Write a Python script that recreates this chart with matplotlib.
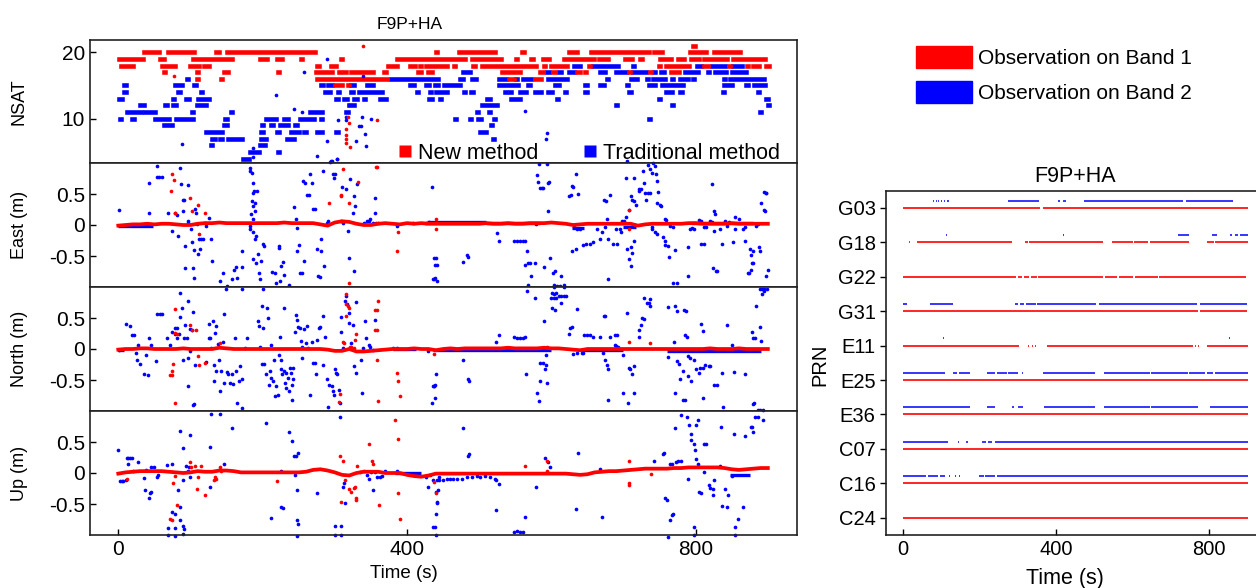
import matplotlib
matplotlib.use("Agg")
import matplotlib.pyplot as plt
from matplotlib.lines import Line2D
from matplotlib.patches import Patch

# ---------------------------------------------------------------- data
# NSAT runs: (nsat, first epoch, last epoch) in seconds
NSAT_NEW = [
    (20, 35, 56), (20, 69, 105), (20, 126, 126), (20, 135, 140), (20, 151, 272),
    (19, 1, 34), (19, 50, 50), (19, 58, 64), (19, 103, 158), (19, 174, 174), (19, 184, 184),
    (19, 196, 206), (19, 220, 227), (19, 235, 235), (19, 244, 244), (19, 253, 254),
    (19, 309, 310), (19, 386, 480),
    (18, 4, 20), (18, 30, 30), (18, 60, 78), (18, 100, 112), (18, 119, 126), (18, 133, 133),
    (18, 214, 214), (18, 223, 223), (18, 255, 255), (18, 266, 266), (18, 276, 278),
    (18, 295, 302), (18, 312, 312), (18, 374, 386), (18, 396, 396), (18, 404, 411),
    (18, 418, 420), (18, 426, 456),
    (17, 8, 8), (17, 64, 65), (17, 109, 110), (17, 123, 123), (17, 146, 152), (17, 221, 222),
    (17, 255, 255), (17, 274, 296), (17, 306, 307), (17, 313, 315), (17, 323, 353),
    (17, 368, 371), (17, 392, 392), (17, 415, 420), (17, 429, 435),
    (16, 56, 56), (16, 67, 68), (16, 109, 110), (16, 123, 123), (16, 143, 144), (16, 276, 373),
    (15, 134, 134), (15, 141, 141), (15, 300, 310), (15, 318, 320), (15, 367, 367), (15, 385, 385),
    (14, 318, 318), (13, 284, 284), (11, 307, 307), (10, 319, 319), (10, 434, 435),
    (21, 796, 799),
    (20, 440, 441), (20, 472, 522), (20, 529, 529), (20, 560, 562), (20, 592, 593), (20, 625, 636),
    (20, 655, 735), (20, 742, 753), (20, 771, 772), (20, 792, 814), (20, 825, 862), (20, 894, 895),
    (19, 490, 530), (19, 551, 553), (19, 572, 575), (19, 588, 597), (19, 618, 644), (19, 650, 659),
    (19, 666, 679), (19, 691, 691), (19, 702, 712), (19, 723, 725), (19, 732, 733), (19, 739, 739),
    (19, 750, 766), (19, 775, 784), (19, 793, 804), (19, 812, 844), (19, 852, 896),
    (18, 465, 467), (18, 492, 494), (18, 504, 579), (18, 590, 591), (18, 599, 622), (18, 646, 646),
    (18, 652, 653), (18, 749, 750), (18, 759, 791), (18, 797, 797), (18, 812, 817), (18, 846, 847),
    (18, 871, 873), (18, 880, 888), (18, 898, 901),
    (17, 447, 447), (17, 464, 464), (17, 531, 557), (17, 585, 589), (17, 602, 605), (17, 619, 619),
    (17, 636, 640), (17, 647, 648), (17, 708, 709), (17, 737, 738), (17, 766, 777), (17, 812, 812),
    (16, 542, 548), (16, 578, 586), (16, 646, 647), (16, 769, 769),
    (15, 584, 585), (15, 601, 601), (15, 748, 748),
    (14, 737, 737), (13, 594, 594), (13, 704, 704), (12, 563, 564),
]

NSAT_TRAD = [
    (18, 631, 640), (18, 658, 693), (18, 713, 714), (18, 802, 807), (18, 822, 841), (18, 852, 864),
    (17, 258, 258), (17, 408, 408), (17, 424, 424), (17, 478, 487), (17, 594, 597), (17, 610, 614),
    (17, 624, 632), (17, 653, 654), (17, 667, 675), (17, 690, 703), (17, 713, 731), (17, 742, 744),
    (17, 752, 756), (17, 785, 803), (17, 817, 819), (17, 827, 842), (17, 851, 870), (17, 893, 893),
    (16, 95, 96), (16, 104, 104), (16, 378, 443), (16, 474, 478), (16, 490, 495), (16, 527, 537),
    (16, 551, 552), (16, 561, 572), (16, 595, 622), (16, 629, 629), (16, 652, 652), (16, 677, 679),
    (16, 711, 712), (16, 718, 719), (16, 726, 726), (16, 733, 734), (16, 741, 758), (16, 767, 769),
    (16, 778, 789), (16, 796, 797), (16, 819, 819), (16, 830, 830), (16, 839, 841), (16, 848, 895),
    (15, 8, 11), (15, 79, 88), (15, 96, 96), (15, 105, 107), (15, 274, 274), (15, 281, 283),
    (15, 290, 296), (15, 323, 327), (15, 344, 353), (15, 372, 373), (15, 404, 410), (15, 417, 417),
    (15, 426, 431), (15, 439, 443), (15, 451, 473), (15, 495, 495), (15, 527, 554), (15, 561, 561),
    (15, 568, 571), (15, 588, 589), (15, 605, 610), (15, 647, 649), (15, 668, 673), (15, 690, 690),
    (15, 705, 706), (15, 735, 743), (15, 753, 782), (15, 812, 812), (15, 839, 851), (15, 860, 860),
    (15, 870, 873), (15, 881, 896),
    (14, 1, 1), (14, 8, 10), (14, 83, 86), (14, 114, 116), (14, 275, 275), (14, 286, 293),
    (14, 305, 306), (14, 323, 325), (14, 333, 365), (14, 373, 373), (14, 392, 392), (14, 404, 404),
    (14, 414, 415), (14, 432, 433), (14, 440, 455), (14, 464, 464), (14, 479, 480), (14, 489, 491),
    (14, 529, 529), (14, 536, 537), (14, 543, 544), (14, 557, 565), (14, 578, 586), (14, 596, 601),
    (14, 619, 620), (14, 647, 650), (14, 678, 679), (14, 688, 688), (14, 708, 710), (14, 759, 767),
    (14, 778, 781), (14, 838, 839), (14, 879, 880), (14, 887, 888), (14, 897, 898),
    (13, 1, 5), (13, 56, 56), (13, 66, 66), (13, 76, 77), (13, 85, 86), (13, 94, 98), (13, 111, 126),
    (13, 148, 148), (13, 227, 227), (13, 274, 274), (13, 302, 304), (13, 313, 317), (13, 326, 331),
    (13, 341, 342), (13, 362, 371), (13, 413, 413), (13, 430, 435), (13, 446, 447), (13, 467, 467),
    (13, 487, 487), (13, 511, 515), (13, 544, 556), (13, 581, 582), (13, 608, 609), (13, 749, 750),
    (13, 768, 769), (13, 898, 900),
    (12, 7, 7), (12, 30, 35), (12, 65, 68), (12, 76, 80), (12, 109, 122), (12, 132, 133),
    (12, 144, 144), (12, 206, 206), (12, 217, 217), (12, 237, 237), (12, 254, 254), (12, 266, 266),
    (12, 320, 327), (12, 367, 367), (12, 430, 430), (12, 496, 496), (12, 504, 525), (12, 549, 549),
    (12, 690, 691), (12, 699, 699), (12, 738, 738), (12, 767, 769), (12, 900, 901),
    (11, 12, 31), (11, 37, 51), (11, 58, 58), (11, 94, 94), (11, 102, 104), (11, 124, 124),
    (11, 146, 146), (11, 156, 157), (11, 216, 216), (11, 229, 229), (11, 256, 256), (11, 266, 282),
    (11, 315, 318), (11, 385, 385), (11, 439, 439), (11, 448, 449), (11, 459, 460), (11, 471, 471),
    (11, 497, 499), (11, 514, 515), (11, 594, 594), (11, 699, 699), (11, 748, 748), (11, 889, 890),
    (10, 3, 4), (10, 19, 22), (10, 41, 41), (10, 51, 70), (10, 80, 103), (10, 127, 127),
    (10, 148, 151), (10, 204, 219), (10, 230, 235), (10, 243, 244), (10, 252, 271), (10, 281, 282),
    (10, 289, 289), (10, 467, 468), (10, 488, 489), (10, 499, 502), (10, 521, 522), (10, 704, 704),
    (10, 736, 737),
    (9, 17, 17), (9, 63, 75), (9, 100, 100), (9, 146, 151), (9, 199, 200), (9, 211, 214),
    (9, 224, 235), (9, 245, 248), (9, 259, 259), (9, 516, 518), (9, 563, 564),
    (8, 63, 63), (8, 71, 72), (8, 121, 144), (8, 171, 171), (8, 198, 200), (8, 220, 223),
    (8, 232, 232), (8, 239, 250), (8, 258, 260), (8, 276, 282), (8, 302, 305), (8, 434, 435),
    (8, 501, 509), (8, 518, 518),
    (7, 130, 134), (7, 141, 144), (7, 152, 172), (7, 198, 204), (7, 223, 223), (7, 234, 243),
    (7, 261, 261), (7, 500, 500), (7, 519, 520),
    (6, 128, 130), (6, 197, 203),
    (5, 182, 195), (5, 221, 222), (5, 308, 308),
    (4, 173, 181),
]

# new-method fixed solution, one value every 10 s from 0 to 900 s (m)
FIX_T = list(range(0, 901, 10))
EAST_NEW = [
    -0.01, 0.00, 0.01, 0.01, 0.02, 0.01, 0.02, 0.02, 0.01, 0.00,
    0.00, 0.02, 0.03, 0.03, 0.04, 0.03, 0.03, 0.03, 0.03, 0.03,
    0.03, 0.03, 0.03, 0.04, 0.03, 0.03, 0.03, 0.03, 0.01, -0.01,
    0.04, 0.06, 0.05, 0.02, 0.00, 0.00, 0.02, 0.03, 0.02, 0.01,
    0.03, 0.02, 0.03, 0.02, 0.02, 0.02, 0.02, 0.02, 0.02, 0.02,
    0.02, 0.03, 0.02, 0.02, 0.03, 0.02, 0.02, 0.03, 0.03, 0.03,
    0.04, 0.03, 0.02, 0.00, 0.01, 0.02, 0.02, 0.02, 0.02, 0.02,
    0.02, 0.02, -0.01, 0.01, 0.02, 0.02, 0.02, 0.02, 0.02, 0.03,
    0.03, 0.02, 0.02, 0.02, 0.02, 0.03, 0.02, 0.02, 0.02, 0.02,
    0.02,
]
NORTH_NEW = [
    -0.01, 0.00, 0.00, 0.01, 0.01, 0.00, 0.00, 0.00, 0.00, 0.01,
    0.00, 0.00, 0.00, 0.00, 0.02, 0.01, 0.00, 0.00, 0.00, 0.00,
    0.00, 0.00, 0.00, 0.00, 0.00, 0.00, 0.00, 0.00, 0.00, -0.01,
    -0.03, -0.03, 0.00, -0.04, -0.04, -0.03, -0.02, -0.01, 0.00, 0.00,
    0.00, 0.01, 0.00, 0.00, -0.02, 0.00, 0.01, 0.00, 0.01, 0.01,
    0.01, 0.01, 0.01, 0.01, 0.02, 0.01, 0.01, 0.01, 0.01, 0.02,
    0.01, 0.01, 0.00, -0.01, -0.02, 0.00, 0.00, 0.00, 0.00, 0.00,
    0.00, 0.00, 0.00, 0.00, 0.00, 0.00, 0.00, 0.00, 0.00, 0.00,
    0.00, 0.00, 0.01, 0.00, 0.00, 0.00, 0.01, 0.00, 0.00, 0.00,
    0.00,
]
UP_NEW = [
    -0.01, 0.01, 0.02, 0.03, 0.03, 0.03, 0.03, 0.02, 0.01, 0.00,
    0.01, 0.03, 0.02, 0.02, 0.04, 0.04, 0.03, 0.01, 0.01, 0.01,
    0.01, 0.01, 0.01, 0.01, 0.01, 0.01, 0.02, 0.05, 0.06, 0.04,
    0.01, -0.03, -0.04, 0.00, 0.02, 0.02, 0.02, 0.00, 0.00, 0.00,
    -0.03, -0.05, -0.06, -0.04, -0.01, -0.01, -0.01, -0.01, -0.01, -0.01,
    -0.01, -0.01, -0.01, -0.01, -0.01, -0.01, -0.01, -0.01, -0.01, -0.01,
    -0.01, -0.01, -0.01, -0.02, -0.03, -0.02, 0.01, 0.02, 0.03, 0.03,
    0.04, 0.05, 0.06, 0.07, 0.07, 0.07, 0.07, 0.08, 0.08, 0.09,
    0.09, 0.09, 0.09, 0.09, 0.08, 0.06, 0.05, 0.06, 0.07, 0.08,
    0.08,
]

# new-method epochs off the fixed line: (time s, error m)
EAST_NEW_OUT = [
    (73, 0.55), (75, 0.82), (77, 0.73), (79, 0.20), (100, 0.44), (102, 0.22), (110, 0.33),
    (112, -0.15), (120, 0.20), (292, 0.36), (308, 0.49), (309, 0.47), (312, 0.90), (319, 0.36),
    (320, -0.93), (332, 0.69), (357, 0.94), (359, 0.94), (388, -0.12), (386, -0.42), (440, 0.10),
    (440, -0.06), (707, 0.25), (707, -0.06),
    (339, 2.89), (359, 1.70), (318, 1.75), (319, 1.65), (315, 1.55), (315, 1.45), (315, 1.39),
    (315, 1.32), (321, 1.26), (77, 2.41),
]
NORTH_NEW_OUT = [
    (78, 0.65), (79, 0.26), (81, 0.24), (74, -0.42), (72, -0.42), (75, -0.35), (76, -0.24),
    (78, -0.87), (99, 0.38), (102, 0.31), (108, 0.30), (110, -0.11), (112, -0.26), (120, -0.22),
    (141, 0.10), (307, -0.73), (306, -0.85), (311, 0.11), (313, 0.10), (315, 0.88), (316, 0.72),
    (318, 0.69), (320, 0.66), (316, 0.53), (321, 0.04), (323, 0.04), (326, 0.02), (328, 0.15),
    (330, 0.24), (356, 0.63), (358, 0.63), (356, 0.31), (358, 0.31), (360, 0.78), (359, -0.17),
    (360, -0.84), (386, -0.39), (387, -0.51), (390, -0.76), (437, -0.08), (594, 0.04),
    (708, 0.11), (737, 0.09),
]
UP_NEW_OUT = [
    (12, -0.09), (72, -0.74), (74, -0.76), (76, -0.16), (78, -0.05), (81, -0.52), (99, 0.18),
    (101, 0.10), (106, 0.11), (109, -0.25), (111, -0.06), (114, 0.12), (120, -0.36),
    (132, -0.12), (134, -0.06), (135, -0.09), (141, 0.10), (143, 0.04), (220, -0.13),
    (307, 0.27), (312, 0.19), (309, -0.47), (314, -0.12), (320, -0.25), (323, -0.31),
    (326, -0.24), (328, -0.22), (329, -0.44), (330, -0.41), (331, 0.11), (335, 0.02),
    (340, 0.04), (348, 0.47), (351, 0.19), (353, 0.15), (361, -0.52), (384, 0.85), (388, 0.55),
    (390, -0.74), (388, -0.33), (437, -0.14), (440, -0.33), (563, 0.12), (594, 0.20),
    (594, 0.03), (707, -0.16), (707, -0.20), (708, 0.19), (738, -0.01),
]

# traditional method: stretches that stay near zero (start s, end s, error m)
EAST_TRAD_FIX = [(0, 48, -0.01), (428, 510, 0.05), (510, 585, 0.03), (628, 645, -0.05),
                 (700, 718, -0.04), (795, 880, 0.03)]
NORTH_TRAD_FIX = [(0, 8, -0.01), (380, 412, 0.0), (436, 600, -0.02), (640, 700, -0.02),
                  (760, 890, -0.03)]
UP_TRAD_FIX = [(383, 420, 0.0), (848, 875, -0.03)]

# traditional method epochs: (time s, error m)
EAST_TRAD = [
    (1, 0.25), (42, 0.68), (43, 0.20), (53, 0.95), (54, 0.78), (57, 0.78), (60, 0.78), (69, 0.20),
    (74, -0.09), (78, 0.20), (81, 0.16), (83, -0.17), (86, 0.92), (87, 0.66), (89, 0.40),
    (91, 0.40), (90, 0.22), (97, 0.64), (92, -0.34), (93, -0.70), (96, 0.04), (97, 0.06),
    (101, -0.07), (102, -0.27), (104, -0.69), (105, -0.40), (106, 0.26), (105, -0.85),
    (108, 0.20), (109, 0.01), (110, -0.46), (112, -0.23), (113, -0.38), (114, -0.23),
    (117, -0.23), (120, 0.04), (122, -0.02), (125, 0.12), (129, -0.23), (130, -0.58),
    (141, -0.90), (145, -0.77), (150, -0.98), (157, -0.87), (161, -0.72), (163, -0.68),
    (164, -0.85), (172, -0.42), (171, -0.67), (172, -1.04), (182, 0.92), (183, 0.87),
    (185, 0.84), (186, 0.68), (186, 0.52), (188, 0.55), (192, 0.55), (185, 0.39), (187, 0.31),
    (189, 0.36), (184, 0.17), (189, 0.23), (186, 0.09), (183, -0.07), (187, -0.12),
    (189, -0.22), (191, -0.18), (182, -0.02), (187, -0.55), (191, -0.61), (194, -0.47),
    (198, -0.58), (200, -0.31), (202, -0.34), (195, -0.77), (196, -0.87), (202, -1.01),
    (213, -0.76), (217, -0.77), (222, -0.34), (223, -0.37), (219, -0.94), (224, -0.90),
    (226, -0.66), (228, -0.60), (229, -0.80), (236, -0.96), (244, 0.29), (246, 0.09),
    (247, -0.05), (250, -0.33), (248, -0.42), (252, -0.78), (254, -0.78), (257, -0.58),
    (256, 0.71), (259, 0.68), (262, 0.49), (264, 0.48), (266, 0.83), (268, 0.67), (270, 0.26),
    (272, 0.26), (275, -0.39), (277, -0.83), (279, -0.84), (281, -0.42), (281, -0.22),
    (284, 0.87), (285, -0.66), (289, 0.04), (290, 0.06), (293, 1.01), (296, 1.03), (298, 0.83),
    (300, 0.83), (303, 1.06), (299, 0.76), (312, 0.04), (309, 0.06), (310, 0.62), (316, 0.58),
    (318, -0.10), (320, -0.53), (321, 0.74), (326, -0.74), (325, 0.20), (327, 0.46),
    (328, 0.31), (331, 0.66), (340, 0.04), (345, 0.06), (347, 0.06), (349, 0.10), (353, 0.04),
    (355, 0.20), (356, 0.44), (357, 0.04), (360, 0.04), (386, -0.02), (409, 0.04), (435, 0.62),
    (437, -0.53), (436, -0.87), (439, -0.85), (441, -0.65), (430, 0.05), (427, 0.04),
    (289, 2.67), (257, 2.47), (218, 2.10), (88, 1.30), (187, 1.24), (187, 1.10), (244, 1.87),
    (255, 1.82), (275, 1.12), (289, 1.35), (295, 1.03), (303, 1.06), (304, 1.69), (316, 1.75),
    (315, 1.70), (333, 1.60), (336, 1.60), (338, 1.75), (329, 1.35), (342, 1.46), (343, 1.28),
    (350, 1.71), (339, 2.40), (320, 1.93), (564, 1.84), (594, 1.49), (592, 1.39),
    (439, -0.64), (440, -0.53), (437, -0.87), (441, -0.90), (478, -0.59), (483, -0.48),
    (485, -0.51), (525, -0.13), (527, -0.26), (548, -0.25), (552, -0.25), (557, -0.25),
    (561, -0.25), (563, -0.25), (566, -0.42), (563, -0.65), (567, -0.61), (570, -0.61),
    (577, -0.61), (572, -0.83), (567, -0.96), (579, 0.01), (580, 0.80), (581, 0.69), (584, 0.60),
    (587, 0.60), (589, 0.60), (583, 0.98), (594, 0.98), (595, 0.68), (597, 0.69), (596, 0.22),
    (590, -0.68), (598, -0.53), (602, -0.77), (605, -0.74), (613, -0.82), (604, -0.97),
    (608, -0.98), (612, -0.98), (617, -0.97), (624, 0.46), (627, 0.48), (630, 0.62), (629, 0.63),
    (634, 0.82), (637, 0.50), (629, -0.42), (634, -0.38), (632, -0.04), (635, -0.06),
    (640, -0.06), (644, -0.33), (648, -0.31), (653, -0.30), (658, -0.27), (663, -0.07),
    (667, -0.23), (670, -0.11), (675, -0.04), (677, 0.10), (673, 0.40), (676, 0.39), (681, 0.48),
    (679, -0.87), (678, -0.22), (686, -0.31), (691, -0.31), (689, -0.06), (695, -0.06),
    (697, -0.12), (698, 0.06), (701, 0.06), (703, 0.13), (707, 0.24), (704, 0.76), (715, 0.76),
    (705, 1.03), (710, 0.46), (712, 0.41), (714, 0.39), (718, 0.32), (721, 0.55), (722, 0.58),
    (724, 0.58), (727, 0.87), (728, 0.68), (730, 0.52), (731, 0.41), (734, 0.52), (737, 0.52),
    (734, 0.96), (737, 0.91), (739, 0.84), (741, 1.00), (744, 0.95), (745, 0.82), (746, 0.71),
    (748, 0.53), (746, 0.35), (751, 0.33), (752, 0.30), (705, -0.39), (710, -0.35),
    (714, -0.26), (712, -0.45), (708, -0.55), (710, -0.66), (739, -0.04), (740, -0.07),
    (744, -0.11), (747, -0.15), (755, -0.20), (758, -0.26), (761, -0.34), (757, -0.33),
    (763, -0.51), (758, 0.10), (759, 0.08), (765, -0.02), (768, -0.04), (771, -0.41),
    (769, -0.94), (774, -0.94), (790, -0.35), (790, -0.82), (792, -0.07), (795, -0.05),
    (797, -0.07), (804, 0.08), (807, 0.06), (808, -0.31), (811, -0.30), (812, -0.04),
    (815, -0.04), (820, 0.06), (822, 0.05), (823, 0.66), (824, -0.69), (828, -0.74),
    (830, -0.74), (826, 0.22), (827, 0.17), (826, -0.10), (834, -0.07), (837, -0.31),
    (840, 0.06), (843, -0.02), (846, 0.05), (852, -0.27), (854, 0.13), (854, -0.07), (860, 0.09),
    (866, -0.07), (868, -0.26), (869, -0.03), (873, -0.77), (874, -0.78), (876, -0.73),
    (878, -0.61), (880, -0.61), (877, -0.49), (879, -0.42), (875, -0.38), (888, -0.35),
    (889, -0.42), (883, -0.02), (887, 0.01), (890, 0.36), (894, 0.25), (896, 0.23), (895, 0.53),
    (897, 0.52), (898, 0.51), (898, -0.82), (900, -0.72), (895, -1.01),
]
NORTH_TRAD = [
    (1, -0.01), (10, 0.40), (16, 0.37), (19, 0.23), (22, 0.23), (28, 0.06), (25, -0.06),
    (26, -0.17), (30, -0.24), (36, -0.41), (41, -0.42), (39, -0.09), (42, 0.18), (45, 0.06),
    (52, -0.19), (54, 0.56), (58, 0.56), (61, 0.56), (68, 0.17), (72, 0.07), (75, 0.28),
    (78, 0.34), (79, 0.24), (81, 0.34), (82, 0.17), (84, 0.24), (86, 0.52), (86, 0.90),
    (88, 0.66), (89, -0.17), (91, 0.18), (92, 0.39), (95, 0.18), (96, 0.78), (97, -0.15),
    (97, -0.59), (99, -0.04), (100, 0.33), (102, 0.31), (104, 0.60), (103, -0.90), (106, -0.25),
    (105, -0.88), (122, -0.21), (125, 0.40), (126, 0.18), (127, 0.17), (128, 0.02), (131, 0.45),
    (132, -0.25), (132, -0.51), (130, -1.03), (134, 0.26), (135, 0.37), (136, -0.36),
    (138, 0.08), (140, -0.17), (141, -0.68), (143, -0.36), (145, 0.12), (146, -0.55),
    (147, 0.56), (149, 0.96), (150, -0.37), (152, -0.40), (155, -0.55), (157, -0.41),
    (159, -0.56), (162, 0.18), (163, -0.36), (165, -0.87), (167, -0.51), (169, -0.28),
    (171, -0.49), (172, 0.96), (172, -0.95), (175, 0.02), (179, 0.18), (193, 0.45), (195, 0.37),
    (197, 0.03), (199, -0.24), (199, 0.69), (200, 0.34), (201, 0.96), (202, -0.24), (204, -0.41),
    (206, 0.66), (207, 0.50), (209, -0.58), (210, -0.35), (211, 0.07), (212, -0.46),
    (215, -0.51), (216, -0.17), (217, -0.76), (219, -0.60), (222, -0.09), (221, -0.74),
    (224, 0.19), (225, -0.17), (226, -0.32), (227, -0.41), (229, 0.66), (230, -0.35),
    (231, -0.55), (233, -0.39), (233, -0.63), (235, -0.47), (237, -0.68), (238, -0.30),
    (239, -0.39), (241, -0.58), (242, -0.31), (240, -0.83), (242, -0.48), (245, 0.28),
    (246, 0.55), (247, 0.46), (249, 0.35), (252, 0.34), (253, 0.13), (254, 0.04), (255, -0.15),
    (258, 0.33), (260, 0.10), (261, 0.37), (263, 0.02), (265, -0.74), (268, 0.11), (270, -0.23),
    (272, -0.23), (274, -0.41), (276, 0.15), (278, 0.34), (280, 0.35), (283, -0.25), (284, 0.53),
    (286, 0.19), (289, -0.48), (291, -0.94), (292, -0.58), (296, -0.60), (297, -0.68),
    (299, -0.74), (300, -0.33), (302, -0.39), (303, -0.41), (306, -0.66), (307, -0.87),
    (308, 0.51), (309, 0.27), (312, 0.02), (314, 0.78), (316, 0.85), (317, 0.72), (319, 0.42),
    (320, 0.58), (322, 0.10), (325, 0.38), (326, -0.28), (329, -0.39), (330, 0.76), (336, -0.17),
    (338, -0.71), (339, 0.02), (342, 0.45), (343, 0.18), (347, 0.07), (349, 0.03), (355, 0.46),
    (353, -0.01), (381, 0.02), (386, 0.01), (435, -0.87), (436, -0.60), (439, -0.58),
    (429, -0.04),
    (439, -0.79), (437, -0.60), (438, -0.59), (440, -0.40), (478, -0.17), (484, -0.49),
    (486, -0.52), (524, 0.11), (527, 0.22), (548, 0.19), (552, 0.18), (557, 0.18), (561, 0.18),
    (564, 0.19), (565, -0.40), (566, 0.94), (578, 0.82), (580, -0.71), (583, -0.84),
    (584, -0.23), (588, -0.23), (591, -0.33), (592, -0.25), (593, -0.09), (584, -0.51),
    (594, -0.55), (590, 0.45), (600, 0.82), (604, 0.82), (607, 0.83), (611, 0.85), (614, 0.85),
    (618, 0.86), (621, 0.86), (601, 0.66), (605, 0.63), (613, 0.74), (601, 0.90), (604, 0.89),
    (607, 0.90), (604, 1.00), (618, 1.00), (635, 0.65), (624, 0.25), (626, 0.34), (628, 0.35),
    (630, -0.08), (635, -0.06), (642, -0.06), (644, -0.06), (645, 0.23), (649, 0.22),
    (653, 0.22), (658, 0.20), (667, 0.20), (673, 0.54), (675, 0.53), (672, -0.06), (674, -0.17),
    (677, -0.25), (679, -0.33), (679, -0.82), (681, 0.20), (688, 0.23), (691, 0.22), (688, 0.07),
    (690, 0.05), (693, 0.04), (699, -0.09), (700, -0.71), (705, 0.58), (706, -0.87),
    (707, -0.30), (709, -0.33), (712, -0.41), (714, -0.28), (715, -0.71), (721, 0.19),
    (722, 0.31), (724, 0.39), (726, 0.50), (728, 0.48), (729, 0.82), (732, 0.74), (735, 0.74),
    (737, 0.70), (737, 0.81), (762, -0.13), (762, 0.67), (771, 0.69), (774, 0.61), (770, 0.11),
    (774, -0.20), (777, -0.24), (778, -0.49), (783, -0.36), (785, 0.22), (788, 0.20),
    (784, 0.63), (787, 0.62), (790, -0.12), (792, -0.15), (797, -0.17), (801, -0.33),
    (804, -0.39), (806, -0.31), (810, -0.31), (813, -0.25), (818, -0.28), (820, -0.28),
    (790, -0.44), (793, -0.52), (771, -0.71), (782, -0.83), (785, -0.82), (808, 0.40),
    (810, 0.29), (810, -0.79), (825, -0.58), (829, -0.58), (836, -0.39), (838, -0.94),
    (844, 0.39), (850, 0.07), (853, -0.37), (868, -0.41), (878, 0.28), (880, 0.17), (882, 0.17),
    (884, 0.70), (889, 0.35), (890, 0.13), (879, -0.89), (881, -0.87), (887, -0.99),
    (889, -0.99), (889, 0.96), (892, 0.96), (895, 0.96), (899, 0.96), (892, 0.89), (895, 0.93),
]
UP_TRAD = [
    (0, 0.37), (3, -0.13), (5, -0.13), (7, -0.13), (10, -0.12), (12, 0.24), (14, 0.24),
    (16, 0.24), (19, 0.24), (13, 0.15), (21, 0.04), (28, 0.18), (35, -0.08), (37, -0.27),
    (42, -0.40), (44, -0.32), (45, -0.31), (39, 0.05), (46, 0.10), (49, 0.09), (53, -0.06),
    (55, -0.04), (67, 0.13), (69, -0.89), (74, 0.15), (75, -0.63), (79, -0.66), (79, -0.88),
    (83, -0.27), (85, -0.55), (86, -0.75), (86, 0.68), (89, 0.41), (89, -0.85), (91, -0.90),
    (90, -0.12), (94, 0.11), (96, 0.03), (98, 0.10), (100, 0.62), (99, -0.06), (127, 0.42),
    (127, -0.23), (129, 0.95), (141, 0.95), (146, 0.15), (157, 0.72), (204, 0.80),
    (212, -0.72), (226, -0.55), (228, -0.57), (225, 0.04), (236, 0.66), (240, 0.52),
    (244, 0.27), (246, 0.27), (249, 0.32), (245, -0.04), (247, -0.28), (248, -0.75),
    (249, -0.83), (275, -0.32), (300, -0.86), (309, -0.86), (307, 0.90), (314, -0.49),
    (313, -0.16), (311, -0.22), (344, -0.04), (347, -0.09), (350, 0.02), (353, -0.28),
    (355, 0.02), (358, -0.06), (363, -0.06), (365, -0.05), (370, 0.03), (386, 0.04),
    (427, -0.06), (429, -0.22), (432, -0.04), (436, -0.87), (440, -0.66), (442, -0.47),
    (443, -0.28), (445, -0.06),
    (436, -0.11), (441, -0.11), (445, -0.11), (450, -0.11), (455, -0.10), (460, -0.10),
    (464, -0.10), (469, -0.10), (440, -0.31), (442, -0.49), (439, -0.87), (476, -0.09),
    (483, -0.06), (490, -0.06), (497, -0.05), (501, -0.06), (508, -0.05), (515, -0.06),
    (522, -0.09), (524, -0.12), (528, -0.18), (478, 0.72), (484, 0.28), (486, 0.31),
    (524, -0.60), (548, -0.95), (552, -0.94), (557, -0.95), (561, -0.95), (563, -0.71),
    (579, -0.23), (591, 0.24), (595, 0.18), (598, 0.09), (634, -0.58), (637, 0.33), (667, 0.06),
    (670, -0.71), (742, 0.19), (755, 0.31), (756, 0.33), (758, -0.41), (760, -0.43),
    (764, -0.76), (767, -0.68), (769, -0.66), (765, 0.14), (767, 0.15), (773, 0.18), (776, 0.19),
    (779, 0.20), (772, 0.72), (779, 0.93), (788, 0.91), (791, 0.77), (793, 0.63), (794, 0.53),
    (797, 0.47), (799, 0.37), (801, 0.23), (803, 0.15), (800, 0.78), (803, 0.86), (811, 0.47),
    (814, 0.46), (789, -0.09), (805, -0.31), (807, -0.32), (811, 0.02), (797, -0.87),
    (818, -0.20), (820, -0.24), (824, -0.25), (825, -0.11), (824, -0.36), (835, 0.74),
    (834, 0.11), (840, -0.25), (845, -0.35), (836, -0.54), (844, -0.55), (850, -0.05),
    (853, 0.63), (869, 0.59), (876, 0.74), (878, 0.74), (880, 0.66), (882, 0.91), (887, 0.91),
    (893, 0.86), (893, 1.01), (855, -0.87), (859, -0.74), (866, -0.55),
    (69, -1.00), (79, -1.02), (90, -0.99), (248, -1.02), (300, -1.00), (309, -1.00),
    (440, -1.00), (762, -1.04), (797, -1.00), (855, -1.00),
]

# PRN tracking, top to bottom; intervals (start s, end s) of observations
PRNS = ["G03", "G18", "G22", "G31", "E11", "E25", "E36", "C07", "C16", "C24"]
BAND1 = [
    [(0, 357), (365, 900)],
    [(16, 17), (35, 283), (318, 325), (328, 523), (546, 600), (604, 640), (645, 748),
     (793, 812), (816, 900)],
    [(0, 296), (300, 310), (315, 330), (335, 349), (353, 523), (527, 560), (565, 600),
     (605, 667), (669, 896)],
    [(0, 771), (776, 899)],
    [(0, 303), (327, 330), (337, 340), (344, 347), (375, 758), (763, 765), (770, 772), (793, 900)],
    [(0, 900)],
    [(0, 900)],
    [(0, 900)],
    [(0, 900)],
    [(0, 900)],
]
BAND2 = [
    [(78, 80), (85, 87), (92, 94), (100, 102), (107, 109), (115, 120), (275, 355), (405, 410),
     (418, 425), (472, 730), (739, 863), (890, 891)],
    [(87, 88), (113, 114), (418, 419), (453, 454), (719, 748), (806, 819), (854, 858),
     (866, 875), (880, 900)],
    [],
    [(0, 10), (70, 129), (255, 256), (292, 300), (305, 315), (320, 347), (349, 505), (512, 767),
     (776, 899)],
    [(105, 106), (200, 201), (713, 714), (806, 807), (828, 829), (852, 853)],
    [(0, 109), (131, 140), (145, 174), (218, 240), (245, 270), (275, 300), (310, 314),
     (366, 501), (525, 645), (648, 745), (748, 790), (795, 810), (815, 900)],
    [(0, 174), (218, 240), (270, 272), (285, 290), (300, 314), (368, 501), (525, 645),
     (648, 771), (802, 900)],
    [(0, 118), (144, 146), (155, 157), (165, 170), (205, 216), (222, 231), (240, 900)],
    [(0, 60), (65, 90), (95, 110), (120, 122), (135, 137), (146, 148), (199, 210), (215, 240),
     (245, 900)],
    [],
]

RED = "#ff0000"
BLUE = "#0000ff"

# ---------------------------------------------------------------- style
plt.rcParams["font.family"] = ["Liberation Sans", "DejaVu Sans"]
plt.rcParams["axes.unicode_minus"] = False
plt.rcParams["axes.linewidth"] = 1.2
plt.rcParams["axes.edgecolor"] = "#222222"

W, H = 1256, 588


def box(x0, y0, x1, y1):
    """Pixel box (top-left origin) to figure fraction rect."""
    return [x0 / W, 1 - y1 / H, (x1 - x0) / W, (y1 - y0) / H]


def draw_runs(ax, runs, color):
    lc = ax.hlines([r[0] for r in runs], [r[1] for r in runs], [r[2] for r in runs],
                   colors=color, lw=3.3)
    lc.set_capstyle("projecting")


def draw_enu(ax, fix, out, trad, trad_fix):
    ax.hlines([s[2] for s in trad_fix], [s[0] for s in trad_fix], [s[1] for s in trad_fix],
              colors=BLUE, lw=2.4, zorder=2)
    ax.scatter([p[0] for p in trad], [p[1] for p in trad], s=7, color=BLUE, linewidths=0,
               clip_on=False, zorder=2)
    ax.plot(FIX_T, fix, color=RED, lw=2.7, zorder=3)
    ax.scatter([p[0] for p in out], [p[1] for p in out], s=7, color=RED, linewidths=0,
               clip_on=False, zorder=3)


fig = plt.figure(figsize=(W / 100, H / 100), dpi=100)

# ---------------------------------------------------------------- left stack
rows = [(40, 163), (163, 287), (287, 411), (411, 535)]
axes = [fig.add_axes(box(90, y0, 797, y1)) for y0, y1 in rows]
ax_n, ax_e, ax_no, ax_u = axes

draw_runs(ax_n, NSAT_TRAD, BLUE)
draw_runs(ax_n, NSAT_NEW, RED)
ax_n.set_ylim(3.33, 21.85)
ax_n.set_yticks([10, 20])
ax_n.set_ylabel("NSAT", fontsize=13)
ax_n.text(0.4526, 1.065, "F9P+HA", transform=ax_n.transAxes, ha="center", va="bottom",
          fontsize=12.5)
ax_n.legend(handles=[Line2D([], [], ls="", marker="s", ms=8.5, color=RED, mec="none"),
                     Line2D([], [], ls="", marker="s", ms=8.5, color=BLUE, mec="none")],
            labels=["New method", "Traditional method"], ncol=2, loc="lower left",
            bbox_to_anchor=(0.436, -0.005), frameon=False, borderpad=0, borderaxespad=0,
            handlelength=0.6, handletextpad=0.3, columnspacing=2.1, fontsize=15.5)

draw_enu(ax_e, EAST_NEW, EAST_NEW_OUT, EAST_TRAD, EAST_TRAD_FIX)
draw_enu(ax_no, NORTH_NEW, NORTH_NEW_OUT, NORTH_TRAD, NORTH_TRAD_FIX)
draw_enu(ax_u, UP_NEW, UP_NEW_OUT, UP_TRAD, UP_TRAD_FIX)
for ax, lab in [(ax_e, "East (m)"), (ax_no, "North (m)"), (ax_u, "Up (m)")]:
    ax.set_ylim(-1, 1)
    ax.set_yticks([-0.5, 0, 0.5])
    ax.set_yticklabels(["-0.5", "0", "0.5"])
    ax.set_ylabel(lab, fontsize=13)

for ax in axes:
    ax.set_xlim(-39.2, 940.4)
    ax.set_xticks([0, 400, 800])
    ax.tick_params(direction="in", length=4, width=1, labelsize=15,
                   bottom=(ax is ax_u), labelbottom=(ax is ax_u))
    ax.yaxis.set_label_coords(-0.088, 0.5)
ax_u.set_xlabel("Time (s)", fontsize=13.5)
ax_u.xaxis.set_label_coords(0.444, -0.24)

# ---------------------------------------------------------------- PRN panel
ax_p = fig.add_axes(box(886, 190.7, 1256, 535))
for i, (b1, b2) in enumerate(zip(BAND1, BAND2)):
    if b1:
        ax_p.hlines([i] * len(b1), [s for s, e in b1], [e for s, e in b1], colors=RED, lw=1.2)
    if b2:
        ax_p.hlines([i - 0.21] * len(b2), [s for s, e in b2], [e for s, e in b2], colors=BLUE,
                    lw=1.1)
ax_p.set_ylim(len(PRNS) - 0.5, -0.5)
ax_p.set_yticks(range(len(PRNS)))
ax_p.set_yticklabels(PRNS)
ax_p.set_xlim(-45, 922)
ax_p.set_xticks([0, 400, 800])
ax_p.spines["right"].set_visible(False)
ax_p.tick_params(axis="x", direction="in", length=4, width=1, labelsize=14.5)
ax_p.tick_params(axis="y", direction="out", length=4, width=1, labelsize=14.5)
ax_p.set_xlabel("Time (s)", fontsize=15.5)
ax_p.xaxis.set_label_coords(0.484, -0.095)
ax_p.set_ylabel("PRN", fontsize=14.5)
ax_p.yaxis.set_label_coords(-0.152, 0.494)
ax_p.text(0.51, 1.012, "F9P+HA", transform=ax_p.transAxes, ha="center", va="bottom",
          fontsize=15.5)

fig.legend(handles=[Patch(color=RED), Patch(color=BLUE)],
           labels=["Observation on Band 1", "Observation on Band 2"],
           loc="upper left", bbox_to_anchor=(916 / W, 1 - 46 / H), frameon=False,
           borderpad=0, borderaxespad=0, handlelength=2.7, handleheight=1.25,
           handletextpad=0.3, labelspacing=0.62, fontsize=15)

fig.savefig("out.png", dpi=100)
